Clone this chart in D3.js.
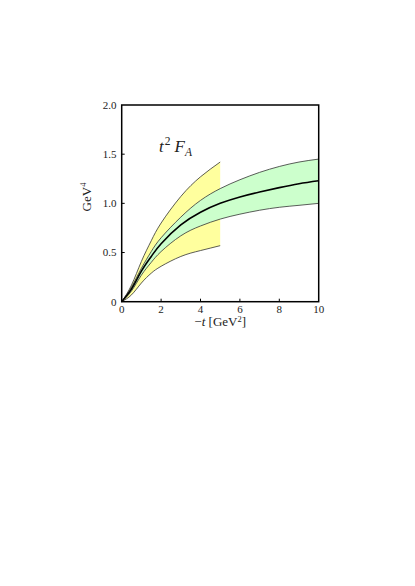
<!DOCTYPE html>
<meta charset="utf-8">
<style>
  body { margin: 0; background: #fff; }
  text { font-family: "Liberation Serif", "DejaVu Serif", serif; fill: #222; }
</style>
<svg width="415" height="586"></svg>
<script src="https://d3js.org/d3.v7.min.js"></script>
<script>

// -t in GeV^2, t^2 F_A in GeV^4
var yellowT  = [0, 0.5, 1, 1.5, 2, 3, 4, 5],
    yellowHi = [0, 0.17, 0.41, 0.62, 0.80, 1.07, 1.27, 1.42],
    yellowLo = [0, 0.07, 0.19, 0.29, 0.36, 0.46, 0.52, 0.57];

var greenT   = [0, 0.5, 1, 1.5, 2, 3, 4, 5, 6, 7, 8, 9, 10],
    greenHi  = [0, 0.15, 0.34, 0.51, 0.65, 0.86, 1.03, 1.15, 1.24, 1.315, 1.375, 1.42, 1.45],
    central  = [0, 0.13, 0.31, 0.46, 0.59, 0.78, 0.91, 1.00, 1.065, 1.115, 1.16, 1.20, 1.23],
    greenLo  = [0, 0.11, 0.27, 0.40, 0.51, 0.67, 0.77, 0.84, 0.89, 0.93, 0.96, 0.98, 1.00];

var xTicks = [0, 2, 4, 6, 8, 10],
    yTicks = [0, 0.5, 1.0, 1.5, 2.0],
    yTickLabels = ["0", "0.5", "1.0", "1.5", "2.0"];

var svg = d3.select("svg");

var x = d3.scaleLinear().domain([0, 10]).range([121.7, 318.7]),
    y = d3.scaleLinear().domain([0, 2]).range([301.7, 105]);

function band(ts, lo, hi) {
  return ts.map(function(t, i) { return {t: t, lo: lo[i], hi: hi[i]}; });
}

var area = d3.area()
  .x(function(d) { return x(d.t); })
  .y0(function(d) { return y(d.lo); })
  .y1(function(d) { return y(d.hi); })
  .curve(d3.curveNatural);

var line = d3.line()
  .x(function(d) { return x(d[0]); })
  .y(function(d) { return y(d[1]); })
  .curve(d3.curveNatural);

function drawBand(ts, lo, hi, fill) {
  svg.append("path")
    .datum(band(ts, lo, hi))
    .attr("d", area)
    .attr("fill", fill);
  [lo, hi].forEach(function(vals) {
    svg.append("path")
      .datum(d3.zip(ts, vals))
      .attr("d", line)
      .attr("fill", "none")
      .attr("stroke", "#333")
      .attr("stroke-width", 0.8);
  });
}

drawBand(yellowT, yellowLo, yellowHi, "#ffff9e");
drawBand(greenT, greenLo, greenHi, "#ccffcc");

svg.append("path")
  .datum(d3.zip(greenT, central))
  .attr("d", line)
  .attr("fill", "none")
  .attr("stroke", "#000")
  .attr("stroke-width", 1.6);

// frame
svg.append("rect")
  .attr("x", x(0)).attr("y", y(2))
  .attr("width", x(10) - x(0)).attr("height", y(0) - y(2))
  .attr("fill", "none")
  .attr("stroke", "#000")
  .attr("stroke-width", 1.5);

// inward ticks
svg.selectAll(".xt").data(xTicks.slice(1, -1)).enter().append("line")
  .attr("x1", x).attr("x2", x)
  .attr("y1", y(0)).attr("y2", y(0) - 3)
  .attr("stroke", "#000").attr("stroke-width", 1);

svg.selectAll(".yt").data(yTicks.slice(1, -1)).enter().append("line")
  .attr("x1", x(0)).attr("x2", x(0) + 3)
  .attr("y1", y).attr("y2", y)
  .attr("stroke", "#000").attr("stroke-width", 1);

svg.selectAll(".xl").data(xTicks).enter().append("text")
  .attr("x", x).attr("y", 313)
  .attr("text-anchor", "middle")
  .attr("font-size", 11)
  .text(function(d) { return d; });

svg.selectAll(".yl").data(yTicks).enter().append("text")
  .attr("x", 116.5).attr("y", function(d) { return y(d) + 3.8; })
  .attr("text-anchor", "end")
  .attr("font-size", 11)
  .text(function(d, i) { return yTickLabels[i]; });

// axis titles
var xt = svg.append("text")
  .attr("x", x(5)).attr("y", 326)
  .attr("text-anchor", "middle")
  .attr("font-size", 13);
xt.append("tspan").text("\u2212");
xt.append("tspan").attr("font-style", "italic").text("t");
xt.append("tspan").text(" [GeV");
xt.append("tspan").attr("dy", -4.5).attr("font-size", 8.5).text("2");
xt.append("tspan").attr("dy", 4.5).text("]");

var yt = svg.append("text")
  .attr("transform", "translate(91," + 197 + ") rotate(-90)")
  .attr("text-anchor", "middle")
  .attr("font-size", 13);
yt.append("tspan").text("GeV");
yt.append("tspan").attr("dy", -5).attr("font-size", 8.5).text("4");

// label inside the plot
var lab = svg.append("text")
  .attr("x", 159).attr("y", 152)
  .attr("font-size", 17)
  .attr("font-style", "italic");
lab.append("tspan").text("t");
lab.append("tspan").attr("dx", 1).attr("dy", -7).attr("font-size", 11.5).attr("font-style", "normal").text("2");
lab.append("tspan").attr("dy", 7).attr("dx", 4).text("F");
lab.append("tspan").attr("dy", 4).attr("font-size", 11.5).text("A");

</script>
